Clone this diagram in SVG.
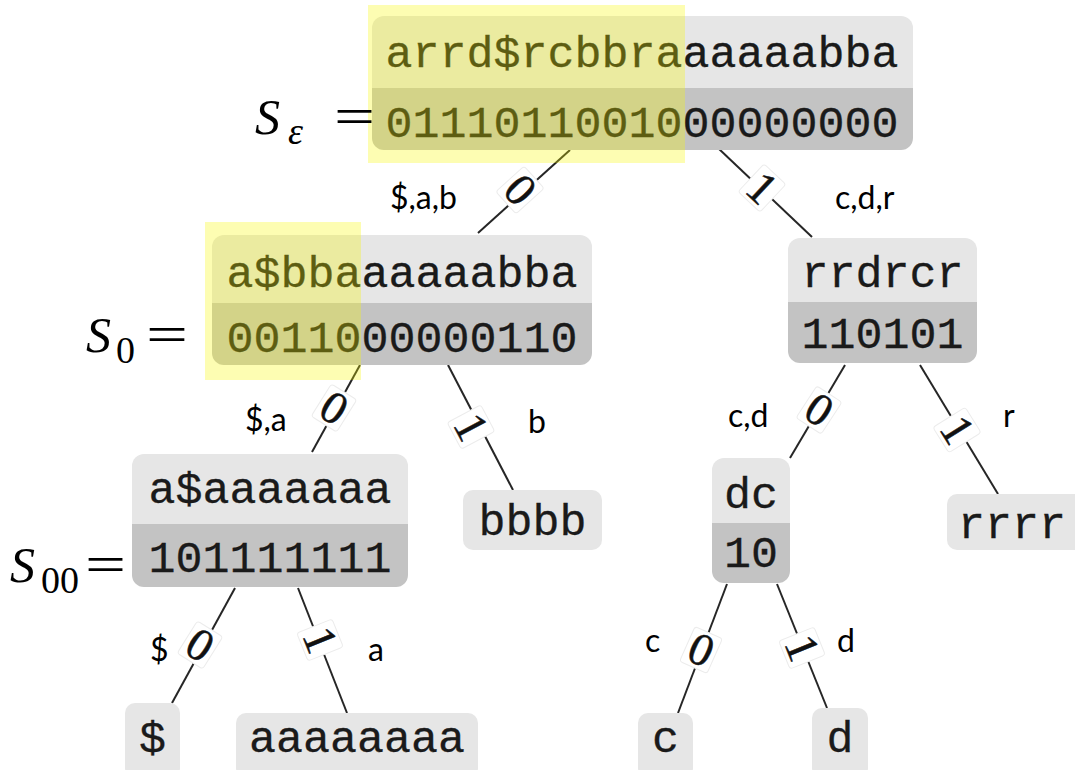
<svg xmlns="http://www.w3.org/2000/svg" width="1075" height="770" viewBox="0 0 1075 770">
<style>
.top{fill:#e6e6e6}
.bot{fill:#c3c3c3}
.leaf{fill:#e6e6e6}
.t{font-family:"Liberation Mono","Courier New",monospace;font-size:45px;fill:#1a1a1a;stroke:#1a1a1a;stroke-width:0.3;text-anchor:middle}
.hl{fill:#f8f800;fill-opacity:0.3}
.e{stroke:#262626;stroke-width:2;fill:none}
.el{font-family:"Liberation Serif","Times New Roman",serif;font-size:46px;fill:#111;stroke:#111;stroke-width:0.5;text-anchor:middle}
.elbg{fill:#fff;stroke:#ececec;stroke-width:1}
.sl{font-family:Lato,"Open Sans",sans-serif;font-size:32px;fill:#000}
.S{font-family:"Liberation Serif","DejaVu Serif",serif;font-style:italic;font-size:50px;fill:#000}
.sub{font-family:"Liberation Serif","DejaVu Serif",serif;font-size:38px;fill:#000}
.eq{font-family:"Liberation Serif","DejaVu Serif",serif;font-size:52px;fill:#000}
</style>
<defs>
<clipPath id="cRoot"><rect x="372" y="16" width="541" height="134" rx="12"/></clipPath>
<clipPath id="cS0"><rect x="212" y="235" width="380" height="130" rx="12"/></clipPath>
<clipPath id="cS00"><rect x="132" y="454" width="276" height="133" rx="12"/></clipPath>
<clipPath id="cR"><rect x="788" y="238" width="189" height="125" rx="12"/></clipPath>
<clipPath id="cDC"><rect x="712" y="458" width="78" height="125" rx="12"/></clipPath>
</defs>

<g id="connectors">
<line class="e" x1="570" y1="150" x2="478" y2="233"/>
<line class="e" x1="718" y1="148" x2="812" y2="237"/>
<line class="e" x1="360" y1="365" x2="312" y2="452"/>
<line class="e" x1="448" y1="365" x2="513" y2="490"/>
<line class="e" x1="235" y1="588" x2="172" y2="703"/>
<line class="e" x1="298" y1="588" x2="347" y2="713"/>
<line class="e" x1="845" y1="365" x2="790" y2="458"/>
<line class="e" x1="920" y1="365" x2="998" y2="494"/>
<line class="e" x1="727" y1="584" x2="678" y2="713"/>
<line class="e" x1="777" y1="584" x2="827" y2="708"/>
<g transform="translate(520,190) rotate(48)"><rect class="elbg" x="-15" y="-19" width="30" height="38" rx="3"/><text class="el" x="0" y="15">0</text></g>
<g transform="translate(762,188) rotate(43)"><rect class="elbg" x="-15" y="-19" width="30" height="38" rx="3"/><text class="el" x="0" y="15">1</text></g>
<g transform="translate(334,408) rotate(32)"><rect class="elbg" x="-15" y="-19" width="30" height="38" rx="3"/><text class="el" x="0" y="15">0</text></g>
<g transform="translate(471,427) rotate(62)"><rect class="elbg" x="-15" y="-19" width="30" height="38" rx="3"/><text class="el" x="0" y="15">1</text></g>
<g transform="translate(200,645) rotate(32)"><rect class="elbg" x="-15" y="-19" width="30" height="38" rx="3"/><text class="el" x="0" y="15">0</text></g>
<g transform="translate(320,640) rotate(68)"><rect class="elbg" x="-15" y="-19" width="30" height="38" rx="3"/><text class="el" x="0" y="15">1</text></g>
<g transform="translate(819,410) rotate(33)"><rect class="elbg" x="-15" y="-19" width="30" height="38" rx="3"/><text class="el" x="0" y="15">0</text></g>
<g transform="translate(957,430) rotate(58)"><rect class="elbg" x="-15" y="-19" width="30" height="38" rx="3"/><text class="el" x="0" y="15">1</text></g>
<g transform="translate(701,650) rotate(24)"><rect class="elbg" x="-15" y="-19" width="30" height="38" rx="3"/><text class="el" x="0" y="15">0</text></g>
<g transform="translate(802,648) rotate(68)"><rect class="elbg" x="-15" y="-19" width="30" height="38" rx="3"/><text class="el" x="0" y="15">1</text></g>
<text class="sl" x="390" y="209">$,a,b</text>
<text class="sl" x="835" y="209">c,d,r</text>
<text class="sl" x="245" y="431">$,a</text>
<text class="sl" x="528" y="433">b</text>
<text class="sl" x="728" y="427">c,d</text>
<text class="sl" x="1003" y="427">r</text>
<text class="sl" x="150" y="661">$</text>
<text class="sl" x="368" y="661">a</text>
<text class="sl" x="645" y="652">c</text>
<text class="sl" x="837" y="652">d</text>
</g>

<g id="root">
<g clip-path="url(#cRoot)"><rect class="top" x="372" y="16" width="541" height="72"/><rect class="bot" x="372" y="88" width="541" height="62"/></g>
<text class="t" x="642" y="67">arrd$rcbbraaaaaabba</text>
<text class="t" x="642" y="137">0111011001000000000</text>
<rect class="hl" x="368" y="5" width="317" height="158"/>
<text class="S" x="255" y="134">S</text><text class="sub" x="288" y="144" font-style="italic">ε</text><text class="eq" x="334" y="134" textLength="41" lengthAdjust="spacingAndGlyphs">=</text>
</g>

<g id="s0">
<g clip-path="url(#cS0)"><rect class="top" x="212" y="235" width="380" height="68"/><rect class="bot" x="212" y="303" width="380" height="62"/></g>
<text class="t" x="402" y="287">a$bbaaaaaabba</text>
<text class="t" x="402" y="352">0011000000110</text>
<rect class="hl" x="205" y="222" width="156" height="158"/>
<text class="S" x="86" y="352">S</text><text class="sub" x="116" y="363">0</text><text class="eq" x="146" y="352" textLength="42" lengthAdjust="spacingAndGlyphs">=</text>
</g>

<g id="s00">
<g clip-path="url(#cS00)"><rect class="top" x="132" y="454" width="276" height="70"/><rect class="bot" x="132" y="524" width="276" height="63"/></g>
<text class="t" x="270" y="503">a$aaaaaaa</text>
<text class="t" x="270" y="572">101111111</text>
<text class="S" x="10" y="582">S</text><text class="sub" x="41" y="593">00</text><text class="eq" x="85" y="582" textLength="41" lengthAdjust="spacingAndGlyphs">=</text>
</g>

<g id="rrdrcr">
<g clip-path="url(#cR)"><rect class="top" x="788" y="238" width="189" height="64"/><rect class="bot" x="788" y="302" width="189" height="61"/></g>
<text class="t" x="882.5" y="287">rrdrcr</text>
<text class="t" x="882.5" y="348">110101</text>
</g>

<g id="dc">
<g clip-path="url(#cDC)"><rect class="top" x="712" y="458" width="78" height="65"/><rect class="bot" x="712" y="523" width="78" height="60"/></g>
<text class="t" x="751" y="508">dc</text>
<text class="t" x="751" y="567">10</text>
</g>

<g id="bbbb"><rect class="leaf" x="463" y="490" width="139" height="60" rx="10"/><text class="t" x="532.5" y="535">bbbb</text></g>
<g id="rrrr"><rect class="leaf" x="947" y="494" width="140" height="56" rx="10"/><text class="t" x="1012" y="538">rrrr</text></g>
<g id="dollar"><rect class="leaf" x="125" y="703" width="55" height="75" rx="10"/><text class="t" x="152.5" y="752">$</text></g>
<g id="aaaa"><rect class="leaf" x="236" y="713" width="242" height="65" rx="10"/><text class="t" x="357" y="752">aaaaaaaa</text></g>
<g id="c"><rect class="leaf" x="638" y="713" width="55" height="65" rx="10"/><text class="t" x="665.5" y="752">c</text></g>
<g id="d"><rect class="leaf" x="812" y="708" width="56" height="70" rx="10"/><text class="t" x="840" y="752">d</text></g>
</svg>
